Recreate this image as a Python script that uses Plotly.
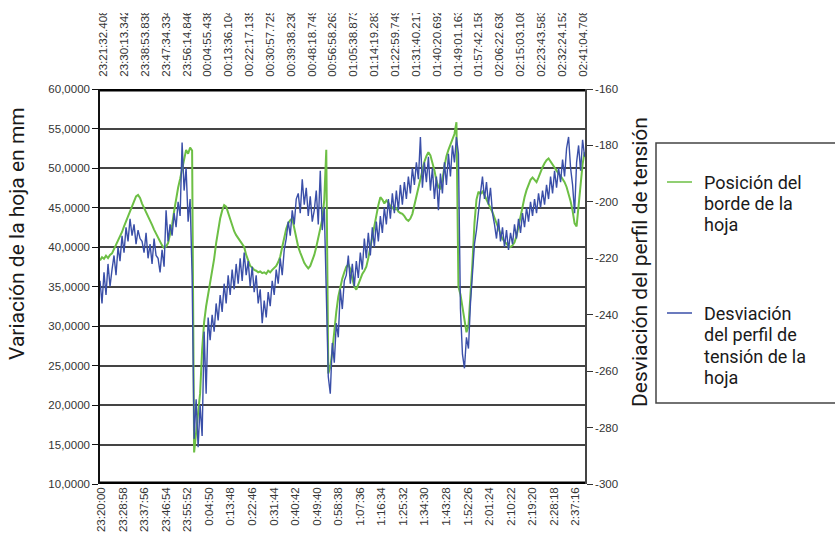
import plotly.graph_objects as go

# ---------------------------------------------------------------------------
# Logged samples (one every 50 s, first sample at 23:19:23)
# ---------------------------------------------------------------------------
SAMPLE_START = "23:19:23"
SAMPLE_STEP_S = 50

# Posición del borde de la hoja (mm) - left axis
borde_mm = [
    38.3, 38.7, 38.5, 38.9, 38.6, 39.0, 39.2, 39.7, 40.2, 40.7,
    41.3, 41.9, 42.6, 43.2, 43.9, 44.6, 45.2, 45.8, 46.4, 46.6,
    46.2, 45.5, 45.0, 44.5, 43.9, 43.4, 42.8, 42.2, 41.7, 41.1,
    40.6, 40.2, 39.9, 40.1, 40.5, 41.5, 42.8, 44.5, 46.2, 47.5,
    48.6, 50.0, 51.2, 52.3, 51.8, 52.6, 52.2, 14.0, 16.5, 19.0,
    21.5, 27.0, 30.5, 32.5, 34.0, 35.4, 36.5, 38.5, 40.5, 42.1,
    43.6, 44.6, 45.3, 45.1, 44.3, 43.4, 42.7, 42.0, 41.5, 41.1,
    40.7, 40.4, 40.0, 39.0, 38.2, 37.6, 37.4, 37.1, 37.0, 36.8,
    36.9, 36.7, 36.8, 36.6, 37.0, 36.8, 37.1, 37.3, 37.6, 38.1,
    38.8, 40.0, 41.3, 42.3, 43.0, 43.4, 43.6, 42.5, 41.0, 40.0,
    39.3, 38.6, 38.0, 37.6, 37.3, 37.6, 38.2, 39.0, 40.0, 41.2,
    42.6, 43.5, 46.0, 52.3, 24.0, 24.8, 26.8, 29.5, 31.8, 33.7,
    35.0, 36.0, 36.8, 37.5, 37.8, 37.2, 36.0, 35.0, 34.6, 35.3,
    36.0, 36.6, 37.0, 37.5, 38.6, 40.0, 41.3, 42.6, 44.0, 45.3,
    46.3, 46.0, 45.5, 45.9, 45.6, 45.2, 45.0, 44.7, 44.9, 44.5,
    44.3, 44.2, 43.9, 43.5, 43.3, 43.6, 44.2, 45.3, 46.6, 47.8,
    49.0, 50.1, 50.8, 51.5, 52.0, 51.6, 50.8, 49.7, 48.4, 47.6,
    47.3, 48.5, 50.2, 51.5, 52.3, 53.0, 53.5, 54.3, 55.8, 35.0,
    34.0, 32.5, 30.5, 29.2, 30.0, 33.5, 38.0, 43.0, 46.0, 47.0,
    46.7, 47.0, 46.6, 46.0, 45.5, 45.0, 44.4, 43.7, 43.0, 42.4,
    41.6, 41.0, 40.7, 40.4, 40.1, 40.0, 40.2, 40.6, 41.4, 42.6,
    44.0, 45.4, 46.3, 47.2, 48.0, 48.5, 48.8, 48.5, 48.2, 48.8,
    49.5, 50.1, 50.6, 51.0, 51.2, 50.8, 50.4, 50.0, 49.7, 49.3,
    49.0, 48.6, 48.2, 47.6, 46.8, 45.8, 44.6, 43.0, 42.6, 45.5,
    48.5, 50.5, 52.0,
]

# Desviación del perfil de tensión de la hoja - right axis
desviacion = [
    -228, -236, -225, -233, -222, -230, -224, -219, -226, -216,
    -221, -212, -218, -209, -214, -206, -212, -208, -215, -210,
    -213, -214, -218, -211, -220, -215, -222, -213, -219, -220,
    -225, -217, -223, -203, -214, -208, -212, -204, -209, -200,
    -205, -179, -196, -188, -207, -199, -226, -284, -270, -287,
    -272, -283, -246, -268, -241, -249, -240, -246, -236, -242,
    -233, -239, -229, -236, -226, -233, -224, -231, -222, -229,
    -220, -228, -218, -226, -221, -230, -223, -232, -226, -236,
    -231, -243, -235, -241, -232, -237, -228, -233, -224, -229,
    -220, -226, -217, -213, -207, -212, -203, -208, -199, -197,
    -204, -192, -201, -195, -205, -198, -207, -203, -196, -208,
    -189, -210, -202, -235, -262, -268, -250, -257, -243, -248,
    -231, -238, -228, -226, -219, -229, -222, -230, -221, -227,
    -218, -224, -213, -220, -211, -219, -209, -216, -207, -214,
    -205, -211, -202, -208, -199, -206, -197, -204, -196, -203,
    -194, -201, -193, -199, -191, -197, -188, -194, -186, -192,
    -177, -195, -186, -193, -184, -196, -188, -199, -191, -203,
    -190, -197, -186, -194, -183, -191, -180, -186, -177, -183,
    -238, -254, -259, -248, -252, -236, -226, -215, -210, -202,
    -197, -191, -199, -193, -201, -195, -204, -208, -213, -206,
    -214, -209, -216, -210, -217, -211, -215, -208, -213, -206,
    -211, -204, -209, -202, -207, -200, -205, -199, -204, -197,
    -202, -196, -201, -194, -199, -191, -197, -189, -195, -188,
    -193, -185, -191, -181, -177, -188, -194, -204, -186, -180,
    -189, -178, -184,
]

# Axis labels
bottom_labels = [
    "23:20:00", "23:28:58", "23:37:56", "23:46:54", "23:55:52", "0:04:50",
    "0:13:48", "0:22:46", "0:31:44", "0:40:42", "0:49:40", "0:58:38",
    "1:07:36", "1:16:34", "1:25:32", "1:34:30", "1:43:28", "1:52:26",
    "2:01:24", "2:10:22", "2:19:20", "2:28:18", "2:37:16",
]
top_labels = [
    "23:21:32.408", "23:30:13.342", "23:38:53.838", "23:47:34.334",
    "23:56:14.846", "00:04:55.438", "00:13:36.104", "00:22:17.135",
    "00:30:57.725", "00:39:38.230", "00:48:18.749", "00:56:58.263",
    "01:05:38.873", "01:14:19.283", "01:22:59.749", "01:31:40.217",
    "01:40:20.692", "01:49:01.163", "01:57:42.158", "02:06:22.630",
    "02:15:03.108", "02:23:43.583", "02:32:24.152", "02:41:04.708",
]
left_ticks = [10, 15, 20, 25, 30, 35, 40, 45, 50, 55, 60]
right_ticks = [-300, -280, -260, -240, -220, -200, -180, -160]

BASE_CLOCK = "23:20:00"
TOP_AXIS_START = "23:20:07"
VIEW_SPAN_S = 12110

GREEN = "#6dbf45"
BLUE = "#3a4fa8"
TICK_FONT = dict(family="Liberation Sans, Arial, sans-serif", size=11.5, color="#333333")
TITLE_FONT = dict(family="Roboto, sans-serif", size=21, color="#1a1a1a")
LEGEND_FONT = dict(family="Roboto, sans-serif", size=18, color="#1a1a1a")

# plot-area geometry in page pixels
PX_TOP, PX_H, PX_LEFT, PX_W = 89, 395, 100, 485
HEADER_CUT_PX = 13


def clock_to_s(label):
    """Seconds after BASE_CLOCK; times after midnight belong to the next day."""
    h, m, s = label.split(":")
    sec = int(h) * 3600 + int(m) * 60 + float(s)
    if int(h) < 12:
        sec += 86400
    bh, bm, bs = BASE_CLOCK.split(":")
    return sec - (int(bh) * 3600 + int(bm) * 60 + float(bs))


def paper_x(px):
    return (px - PX_LEFT) / PX_W


def paper_y(py):
    return (PX_TOP + PX_H - py) / PX_H


t0 = clock_to_s(SAMPLE_START)
t_borde = [t0 + i * SAMPLE_STEP_S for i in range(len(borde_mm))]
t_desv = [t0 + i * SAMPLE_STEP_S for i in range(len(desviacion))]

fig = go.Figure()
fig.add_trace(go.Scatter(
    x=t_borde, y=borde_mm, mode="lines", name="Posición del borde de la hoja",
    line=dict(color=GREEN, width=2), xaxis="x", yaxis="y", showlegend=False,
))
fig.add_trace(go.Scatter(
    x=t_desv, y=desviacion, mode="lines",
    name="Desviación del perfil de tensión de la hoja",
    line=dict(color=BLUE, width=1.4), xaxis="x", yaxis="y2", showlegend=False,
))
# carrier for the top time axis
top_vals = [clock_to_s(s) for s in top_labels]
fig.add_trace(go.Scatter(
    x=[top_vals[0], top_vals[-1]], y=[None, None], mode="lines",
    xaxis="x2", yaxis="y", showlegend=False, hoverinfo="skip",
))

x0 = t0
top0 = clock_to_s(TOP_AXIS_START)

fig.update_layout(
    width=835, height=540,
    margin=dict(l=PX_LEFT, r=835 - PX_LEFT - PX_W, t=PX_TOP, b=540 - PX_TOP - PX_H),
    paper_bgcolor="white", plot_bgcolor="white",
    showlegend=False,
    xaxis=dict(
        range=[x0, x0 + VIEW_SPAN_S],
        tickvals=[clock_to_s(s) for s in bottom_labels],
        ticktext=bottom_labels, tickangle=-90, tickfont=TICK_FONT,
        showgrid=False, zeroline=False, showline=False, ticks="",
        automargin=False,
    ),
    xaxis2=dict(
        range=[top0, top0 + VIEW_SPAN_S], overlaying="x", side="top",
        anchor="y", tickvals=top_vals, ticktext=top_labels, tickangle=-90,
        tickfont=TICK_FONT, showgrid=False, zeroline=False, showline=False,
        # invisible ticks keep the labels clear of the frame bar
        ticks="outside", ticklen=9, tickcolor="rgba(0,0,0,0)",
        automargin=False,
    ),
    yaxis=dict(
        range=[10, 60], tickvals=left_ticks,
        ticktext=[f"{v:.4f}".replace(".", ",") for v in left_ticks],
        tickfont=TICK_FONT, showgrid=True, gridcolor="#444444", gridwidth=2,
        zeroline=False, showline=True, linecolor="#111111", linewidth=1.5,
        ticks="outside", ticklen=6, tickcolor="#111111", automargin=False,
    ),
    yaxis2=dict(
        range=[-300, -160], tickvals=right_ticks,
        ticktext=[str(v) for v in right_ticks], overlaying="y", side="right",
        anchor="x", tickfont=TICK_FONT, showgrid=False, zeroline=False,
        showline=True, linecolor="#444444", linewidth=1.5,
        ticks="outside", ticklen=6, tickcolor="#333333", automargin=False,
    ),
)

# thick top/bottom frame bars
for yv in (left_ticks[0], left_ticks[-1]):
    fig.add_shape(type="line", xref="paper", yref="y", x0=0, x1=1, y0=yv, y1=yv,
                  line=dict(color="black", width=5))

# the chart area ends a little below the top edge of the page: a white band
# (drawn in the annotation layer so it sits over the top tick labels)
fig.add_annotation(text=" ", xref="paper", yref="paper", x=0.5, y=paper_y(0),
                   xanchor="center", yanchor="top", showarrow=False,
                   width=1000, height=HEADER_CUT_PX,
                   bgcolor="white", borderpad=0, borderwidth=0)

# axis titles
fig.add_annotation(text="Variación de la hoja en mm", xref="paper", yref="paper",
                   x=paper_x(17), y=paper_y(234), textangle=-90, showarrow=False,
                   font=TITLE_FONT, xanchor="center", yanchor="middle")
fig.add_annotation(text="Desviación del perfil de tensión", xref="paper",
                   yref="paper", x=paper_x(640), y=paper_y(262), textangle=-90,
                   showarrow=False, font=TITLE_FONT, xanchor="center",
                   yanchor="middle")

# legend box
fig.add_shape(type="rect", xref="paper", yref="paper", x0=paper_x(656),
              x1=paper_x(860), y0=paper_y(403), y1=paper_y(143),
              line=dict(color="#444444", width=1.5), fillcolor="rgba(0,0,0,0)")
legend_items = [
    (GREEN, ["Posición del", "borde de la", "hoja"], 182),
    (BLUE, ["Desviación", "del perfil de", "tensión de la", "hoja"], 313),
]
for color, lines, ypx in legend_items:
    fig.add_shape(type="line", xref="paper", yref="paper",
                  x0=paper_x(667), x1=paper_x(692),
                  y0=paper_y(ypx), y1=paper_y(ypx),
                  line=dict(color=color, width=1.5))
    for k, txt in enumerate(lines):
        fig.add_annotation(text=txt, xref="paper", yref="paper",
                           x=paper_x(702), y=paper_y(ypx + k * 21.5),
                           showarrow=False, font=LEGEND_FONT,
                           xanchor="left", yanchor="middle")

fig.write_html("out.html")
